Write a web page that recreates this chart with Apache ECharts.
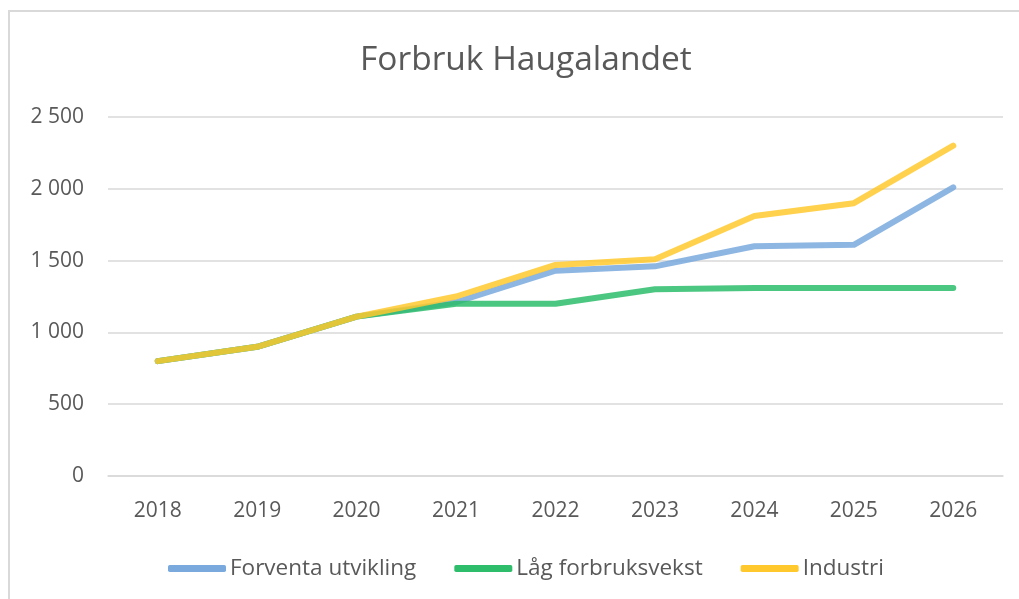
<!DOCTYPE html>
<html>
<head>
<meta charset="utf-8">
<script src="https://cdn.jsdelivr.net/npm/echarts@6/dist/echarts.min.js"></script>
<style>
html,body{margin:0;padding:0;background:#fff;}
#frame{position:absolute;left:8px;top:10px;width:1011px;height:589px;border-left:2px solid #d9d9d9;border-top:2px solid #d9d9d9;box-sizing:border-box;}
#chart{position:absolute;left:0;top:0;width:1019px;height:599px;}
</style>
</head>
<body>
<div id="frame"></div>
<div id="chart"></div>
<script>
const title = 'Forbruk Haugalandet';
const categories = ['2018','2019','2020','2021','2022','2023','2024','2025','2026'];
const seriesNames = ['Forventa utvikling','Låg forbruksvekst','Industri'];
const forventa = [800, 900, 1110, 1210, 1430, 1460, 1600, 1610, 2010];
const laag = [800, 900, 1110, 1200, 1200, 1300, 1310, 1310, 1310];
const industri = [800, 900, 1110, 1250, 1470, 1510, 1810, 1900, 2300];
const colors = ['#79a9dd', '#2dbd6b', '#ffc92e'];

const chart = echarts.init(document.getElementById('chart'), null, {renderer:'canvas'});
const font = 'Open Sans';
const mk = (name, data, i) => ({
  name, type:'line', data, symbol:'none', smooth:false,
  lineStyle:{width:6, color:colors[i], opacity:0.85, cap:'round', join:'round'},
  itemStyle:{color:colors[i]},
  emphasis:{disabled:true}
});
chart.setOption({
  backgroundColor:'transparent',
  animation:false,
  title:{text:title, left:355, top:38, textStyle:{fontFamily:font, fontSize:33.5, fontWeight:'normal', color:'#595959'}},
  grid:{left:108, right:16, top:117, bottom:123, containLabel:false},
  legend:{bottom:14, left:163, itemWidth:58, itemHeight:7, itemGap:38,
    icon:'roundRect',
    textStyle:{fontFamily:font, fontSize:22.5, color:'#595959', padding:[0,0,0,-1]},
    data:seriesNames},
  xAxis:{type:'category', data:categories, boundaryGap:true,
    axisLine:{show:true, lineStyle:{color:'#d9d9d9', width:1.5}}, axisTick:{show:false},
    axisLabel:{fontFamily:font, fontSize:21, color:'#595959', margin:25}},
  yAxis:{type:'value', min:0, max:2500, interval:500,
    axisLine:{show:false}, axisTick:{show:false},
    splitLine:{lineStyle:{color:'#d9d9d9', width:1.5}},
    axisLabel:{fontFamily:font, fontSize:21, color:'#595959', margin:24,
      formatter:v => String(v).replace(/\B(?=(\d{3})+(?!\d))/g,' ')}},
  series:[mk(seriesNames[0], forventa, 0), mk(seriesNames[1], laag, 1), mk(seriesNames[2], industri, 2)]
});
</script>
</body>
</html>
